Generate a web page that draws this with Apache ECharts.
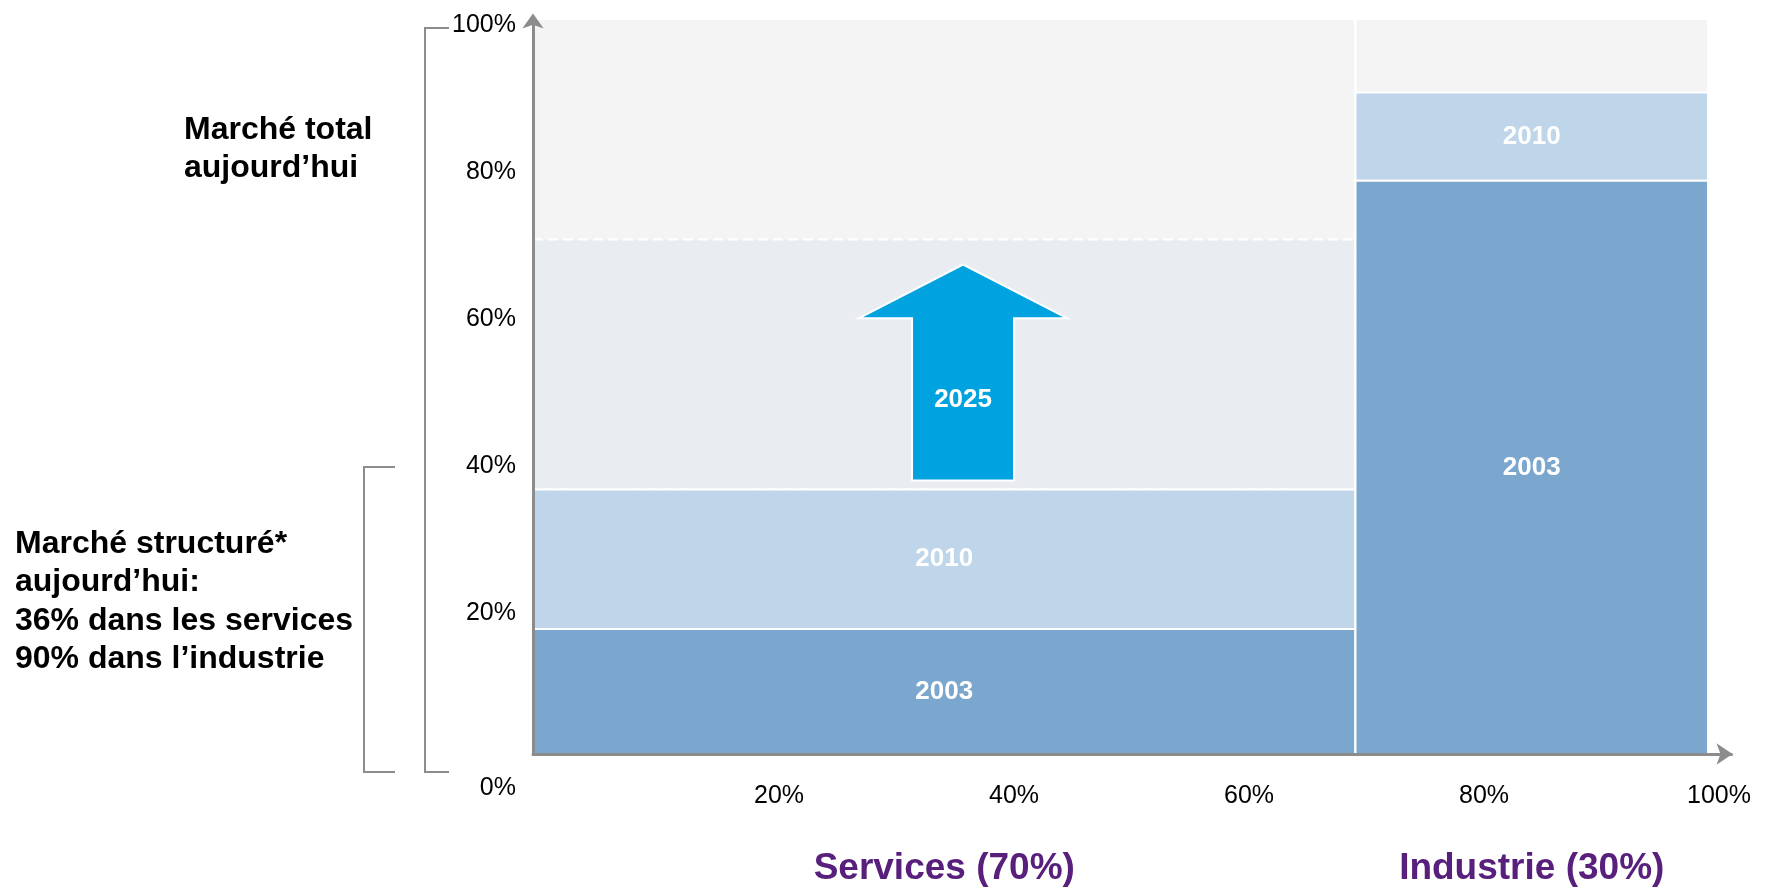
<!DOCTYPE html>
<html>
<head>
<meta charset="utf-8">
<title>Marché structuré – services et industrie</title>
<script src="https://cdn.jsdelivr.net/npm/echarts@6/dist/echarts.min.js"></script>
<style>
  html, body { margin: 0; padding: 0; background: #ffffff; }
  #chart { width: 1771px; height: 890px; }
</style>
</head>
<body>
<div id="chart"></div>
<script>
// Market segments (column widths = share of total market, in %)
const segments = ['Services (70%)', 'Industrie (30%)'];
const segmentShare = [70, 30];
// Structured share of each segment's market, cumulative, in %
const share2003 = [17, 78];
const share2010 = [36, 90];
const share2025 = [70, null];
const layerYears = ['2003', '2010', '2025'];
// Axis tick labels
const xTickValues = [20, 40, 60, 80, 100];
const yTickValues = [0, 20, 40, 60, 80, 100];

// Growth arrow drawn inside the services column (axis units)
const growthArrow = { x: 36.6, base: 37.2, neck: 59.3, tip: 66.6, label: layerYears[2] };

const FONT = "'Liberation Sans', Arial, Helvetica, sans-serif";
const COLORS = {
  total: '#f4f4f4',
  y2025: '#e9edf2',
  y2010: '#bfd5e9',
  y2003: '#7ba6cd',
  arrow: '#00a3e0',
  axis: '#8c8c8c',
  purple: '#58207c'
};

// Mekko cells: one background column per segment, then stacked layers
const cells = [];
let start = 0;
segments.forEach(function (name, i) {
  const end = start + segmentShare[i];
  cells.push({ x0: start, x1: end, y0: 0, y1: 100, kind: 'total', segment: name });
  if (share2025[i] != null) {
    cells.push({ x0: start, x1: end, y0: share2010[i], y1: share2025[i], kind: 'y2025' });
  }
  cells.push({ x0: start, x1: end, y0: share2003[i], y1: share2010[i], kind: 'y2010', label: layerYears[1] });
  cells.push({ x0: start, x1: end, y0: 0, y1: share2003[i], kind: 'y2003', label: layerYears[0] });
  start = end;
});

function renderCell(params, api) {
  const c = cells[params.dataIndex];
  const tl = api.coord([c.x0, c.y1]);
  const br = api.coord([c.x1, c.y0]);
  const children = [{
    type: 'rect',
    shape: { x: tl[0], y: tl[1], width: br[0] - tl[0], height: br[1] - tl[1] },
    style: {
      fill: COLORS[c.kind],
      stroke: '#ffffff',
      lineWidth: 2,
      lineDash: c.kind === 'y2025' ? [10, 5] : null
    }
  }];
  if (c.label) {
    children.push({
      type: 'text',
      x: (tl[0] + br[0]) / 2,
      y: (tl[1] + br[1]) / 2,
      style: {
        text: c.label, align: 'center', verticalAlign: 'middle',
        fill: '#ffffff', font: 'bold 26px ' + FONT
      }
    });
  }
  if (c.kind === 'total') {
    children.push({
      type: 'text',
      x: (tl[0] + br[0]) / 2,
      y: br[1] + 115,
      style: {
        text: c.segment, align: 'center', verticalAlign: 'middle',
        fill: COLORS.purple, font: 'bold 37px ' + FONT
      }
    });
  }
  return { type: 'group', children: children };
}

function renderArrow(params, api) {
  const base = api.coord([growthArrow.x, growthArrow.base]);
  const neck = api.coord([growthArrow.x, growthArrow.neck]);
  const tip = api.coord([growthArrow.x, growthArrow.tip]);
  const mid = api.coord([growthArrow.x, (growthArrow.base + growthArrow.neck) / 2]);
  const shaftHalf = 51;
  const headHalf = 104;
  const cx = base[0];
  const pts = [
    [cx - shaftHalf, base[1]], [cx - shaftHalf, neck[1]], [cx - headHalf, neck[1]],
    [cx, tip[1]],
    [cx + headHalf, neck[1]], [cx + shaftHalf, neck[1]], [cx + shaftHalf, base[1]]
  ];
  return {
    type: 'group',
    children: [
      { type: 'polygon', shape: { points: pts }, style: { fill: COLORS.arrow, stroke: '#ffffff', lineWidth: 2 } },
      {
        type: 'text', x: cx, y: mid[1],
        style: { text: growthArrow.label, align: 'center', verticalAlign: 'middle', fill: '#ffffff', font: 'bold 26px ' + FONT }
      }
    ]
  };
}

const labelFont = { fontSize: 25, fontFamily: FONT, color: '#000000' };
const boldText = 'bold 32px ' + FONT;

const option = {
  animation: false,
  backgroundColor: '#ffffff',
  grid: { left: 533, top: 19, width: 1198.5, height: 735, containLabel: false, outerBoundsMode: 'none' },
  xAxis: {
    type: 'value', min: 0, max: 102, interval: 20, z: 10,
    axisLine: {
      show: true, lineStyle: { color: COLORS.axis, width: 3 },
      symbol: ['none', 'arrow'], symbolSize: [16, 16], symbolOffset: [0, 1]
    },
    axisTick: { show: false },
    splitLine: { show: false },
    axisLabel: Object.assign({
      margin: 30, padding: [0, 0, 0, 22],
      formatter: function (v) { return xTickValues.indexOf(v) >= 0 ? v + '%' : ''; }
    }, labelFont)
  },
  yAxis: {
    type: 'value', min: 0, max: 100, interval: 20, z: 10,
    axisLine: {
      show: true, lineStyle: { color: COLORS.axis, width: 3 },
      symbol: ['none', 'arrow'], symbolSize: [16, 15], symbolOffset: [0, 5.5]
    },
    axisTick: { show: false },
    splitLine: { show: false },
    axisLabel: {
      margin: 17,
      formatter: function (v) {
        if (yTickValues.indexOf(v) < 0) return '';
        return v === 0 ? '{zero|0%}' : '{n|' + v + '%}';
      },
      rich: {
        n: Object.assign({ padding: [12, 0, 0, 0] }, labelFont),
        zero: Object.assign({ padding: [68, 0, 0, 0] }, labelFont)
      }
    }
  },
  graphic: [
    {
      type: 'text', left: 184, top: 111,
      style: { text: 'Marché total\naujourd’hui', font: boldText, fill: '#000000', lineHeight: 38 }
    },
    {
      type: 'text', left: 15, top: 525,
      style: {
        text: 'Marché structuré*\naujourd’hui:\n36% dans les services\n90% dans l’industrie',
        font: boldText, fill: '#000000', lineHeight: 38.3
      }
    },
    {
      type: 'polyline',
      shape: { points: [[449, 28], [425, 28], [425, 772], [449, 772]] },
      style: { stroke: COLORS.axis, lineWidth: 2, fill: null }
    },
    {
      type: 'polyline',
      shape: { points: [[395, 467], [364, 467], [364, 772], [395, 772]] },
      style: { stroke: COLORS.axis, lineWidth: 2, fill: null }
    }
  ],
  series: [
    {
      type: 'custom',
      renderItem: renderCell,
      clip: false,
      encode: { x: [0, 1], y: [2, 3] },
      data: cells.map(function (c) { return [c.x0, c.x1, c.y0, c.y1]; }),
      silent: true
    },
    {
      type: 'custom',
      renderItem: renderArrow,
      clip: false,
      encode: { x: 0, y: [1, 2] },
      data: [[growthArrow.x, growthArrow.base, growthArrow.tip]],
      silent: true
    }
  ]
};

const chart = echarts.init(document.getElementById('chart'), null, { renderer: 'canvas' });
chart.setOption(option);
</script>
</body>
</html>
